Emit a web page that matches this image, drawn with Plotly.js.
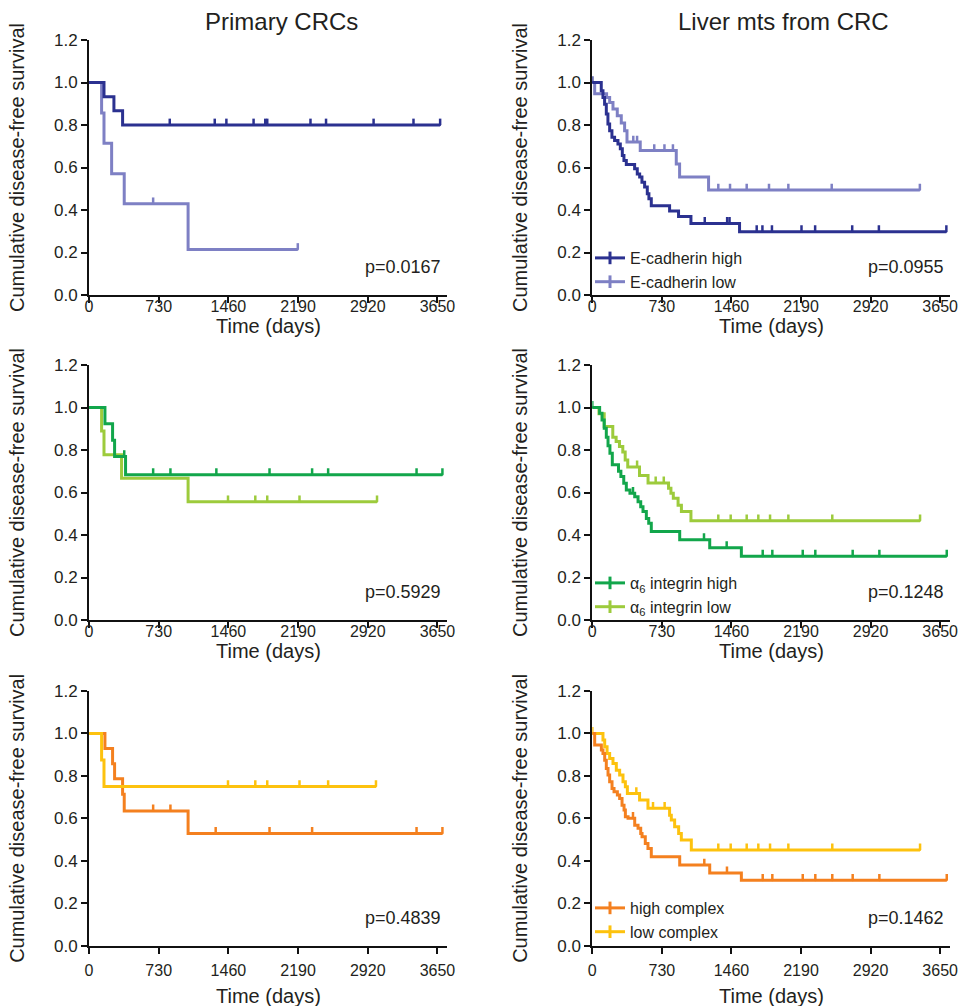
<!DOCTYPE html>
<html>
<head>
<meta charset="utf-8">
<script src="https://cdn.plot.ly/plotly-3.0.1.min.js"></script>
<style>html,body{margin:0;padding:0;background:#fff;}#chart{width:977px;height:1006px;}</style>
</head>
<body>
<div id="chart"></div>
<script>
// ---------- axis ticks ----------
const xTicks = [0, 730, 1460, 2190, 2920, 3650];
const yTicks = [0, 0.2, 0.4, 0.6, 0.8, 1.0, 1.2];

// ---------- Primary CRCs: E-cadherin ----------
const crcEcadHighT = [0, 157, 261, 352];
const crcEcadHighS = [1, 0.933, 0.867, 0.8];
const crcEcadHighC = [846, 1317, 1439, 1724, 1846, 1867, 2320, 2483, 2981, 3399, 3678];
const crcEcadLowT = [0, 132, 157, 237, 369, 1038];
const crcEcadLowS = [1, 0.857, 0.714, 0.571, 0.429, 0.214];
const crcEcadLowC = [672, 2187];

// ---------- Primary CRCs: alpha6 integrin ----------
const crcA6HighT = [0, 167, 247, 268, 383];
const crcA6HighS = [1, 0.923, 0.846, 0.769, 0.684];
const crcA6HighC = [369, 672, 853, 1334, 1891, 2337, 2505, 3431, 3702];
const crcA6LowT = [0, 132, 157, 341, 1038];
const crcA6LowS = [1, 0.889, 0.778, 0.667, 0.556];
const crcA6LowC = [1456, 1742, 1867, 2205, 3017];

// ---------- Primary CRCs: complex ----------
const crcCxHighT = [0, 167, 247, 268, 352, 369, 1038];
const crcCxHighS = [1, 0.929, 0.857, 0.786, 0.714, 0.635, 0.529];
const crcCxHighC = [672, 853, 1327, 1891, 2337, 3431, 3702];
const crcCxLowT = [0, 132, 157];
const crcCxLowS = [1, 0.875, 0.75];
const crcCxLowC = [1456, 1742, 1867, 2205, 2505, 3006];

// ---------- Liver mts: E-cadherin ----------
const livEcadHighT = [0, 94, 112, 129, 147, 164, 182, 206, 234, 269, 294, 315, 332, 357, 444, 472, 497, 521, 549, 577, 594, 619, 811, 905, 1035, 1545];
const livEcadHighS = [1, 0.961, 0.93, 0.898, 0.852, 0.805, 0.773, 0.742, 0.727, 0.711, 0.688, 0.656, 0.633, 0.614, 0.594, 0.57, 0.555, 0.531, 0.508, 0.477, 0.453, 0.42, 0.395, 0.37, 0.337, 0.298];
const livEcadHighC = [0, 1180, 1415, 1440, 1725, 1785, 1885, 2195, 2338, 2727, 3007, 3715];
const livEcadLowT = [0, 25, 150, 182, 217, 262, 304, 339, 364, 503, 881, 916, 1220];
const livEcadLowS = [1, 0.947, 0.93, 0.906, 0.875, 0.844, 0.81, 0.773, 0.72, 0.68, 0.617, 0.555, 0.494];
const livEcadLowC = [430, 470, 650, 757, 846, 1322, 1445, 1620, 1854, 2057, 2512, 3437];

// ---------- Liver mts: alpha6 integrin ----------
const livA6HighT = [0, 77, 102, 125, 147, 165, 185, 210, 275, 300, 330, 357, 395, 445, 480, 508, 532, 567, 592, 619, 917, 1232, 1564];
const livA6HighS = [1, 0.973, 0.941, 0.902, 0.86, 0.82, 0.785, 0.73, 0.70, 0.675, 0.643, 0.612, 0.596, 0.58, 0.557, 0.533, 0.51, 0.478, 0.455, 0.416, 0.378, 0.34, 0.30];
const livA6HighC = [0, 427, 1172, 1410, 1788, 1889, 2208, 2340, 2732, 3012, 3719];
const livA6LowT = [0, 70, 125, 215, 250, 285, 320, 345, 372, 495, 585, 800, 825, 850, 900, 935, 1035];
const livA6LowS = [1, 0.97, 0.91, 0.86, 0.84, 0.816, 0.79, 0.753, 0.72, 0.68, 0.645, 0.62, 0.597, 0.573, 0.54, 0.51, 0.467];
const livA6LowC = [470, 665, 750, 1322, 1452, 1620, 1742, 1865, 2057, 2518, 3439];

// ---------- Liver mts: complex ----------
const livCxHighT = [0, 25, 95, 112, 130, 147, 165, 182, 207, 228, 263, 287, 312, 333, 347, 375, 445, 480, 508, 522, 556, 584, 619, 917, 1232, 1564];
const livCxHighS = [1, 0.945, 0.922, 0.906, 0.874, 0.835, 0.804, 0.772, 0.741, 0.725, 0.71, 0.694, 0.662, 0.639, 0.608, 0.6, 0.568, 0.553, 0.529, 0.513, 0.482, 0.458, 0.419, 0.38, 0.343, 0.308];
const livCxHighC = [427, 1175, 1413, 1788, 1889, 2208, 2340, 2518, 2732, 3012, 3719];
const livCxLowT = [0, 112, 130, 155, 182, 217, 252, 287, 322, 347, 368, 496, 584, 811, 829, 864, 906, 934, 1039];
const livCxLowS = [1, 0.969, 0.937, 0.906, 0.882, 0.859, 0.827, 0.804, 0.772, 0.749, 0.717, 0.686, 0.647, 0.615, 0.592, 0.56, 0.529, 0.498, 0.451];
const livCxLowC = [0, 462, 637, 759, 1322, 1452, 1620, 1742, 1865, 2057, 2518, 3439];

// ---------- labels ----------
const colTitles = ['Primary CRCs', 'Liver mts from CRC'];
const pValues = ['p=0.0167', 'p=0.0955', 'p=0.5929', 'p=0.1248', 'p=0.4839', 'p=0.1462'];
const legendNames = [
  ['E-cadherin high', 'E-cadherin low'],
  ['\u03b1<sub>6</sub> integrin high', '\u03b1<sub>6</sub> integrin low'],
  ['high complex', 'low complex']
];
const xTitle = 'Time (days)';
const yTitle = 'Cumulative disease-free survival';

// ---------- colours ----------
const C = {
  ecadHigh: '#2b3190', ecadLow: '#7e80c4',
  a6High: '#12a64b', a6Low: '#9dcb3c',
  cxHigh: '#f4801f', cxLow: '#fdc20e'
};
const FONT = 'Liberation Sans, Arial, sans-serif';
const TXT = '#231f20';

function survAt(t, s, time) {
  let v = s[0];
  for (let i = 0; i < t.length; i++) if (t[i] <= time) v = s[i];
  return v;
}

const traces = [];
function addCurve(t, s, c, color, n) {
  const xa = n === 1 ? 'x' : 'x' + n, ya = n === 1 ? 'y' : 'y' + n;
  const end = Math.max(t[t.length - 1], ...c);
  traces.push({
    x: t.concat([end]), y: s.concat([s[s.length - 1]]),
    mode: 'lines', line: {shape: 'hv', color: color, width: 3},
    xaxis: xa, yaxis: ya, showlegend: false, hoverinfo: 'skip'
  });
  traces.push({
    x: c, y: c.map(v => survAt(t, s, v)),
    mode: 'markers', marker: {size: 2, color: color},
    error_y: {type: 'constant', value: 0.03, valueminus: 0, symmetric: false, width: 0, thickness: 2.5, color: color},
    xaxis: xa, yaxis: ya, showlegend: false, hoverinfo: 'skip', cliponaxis: false
  });
}
function addLegend(name, color, n, leg) {
  traces.push({
    x: [null], y: [null], name: name, mode: 'lines+markers',
    line: {color: color, width: 3},
    marker: {symbol: 'line-ns', size: 9, color: color, line: {width: 3, color: color}},
    xaxis: 'x' + n, yaxis: 'y' + n, legend: leg, showlegend: true
  });
}

// panel 1 (row1 left)
addCurve(crcEcadLowT, crcEcadLowS, crcEcadLowC, C.ecadLow, 1);
addCurve(crcEcadHighT, crcEcadHighS, crcEcadHighC, C.ecadHigh, 1);
// panel 2 (row1 right)
addCurve(livEcadLowT, livEcadLowS, livEcadLowC, C.ecadLow, 2);
addCurve(livEcadHighT, livEcadHighS, livEcadHighC, C.ecadHigh, 2);
addLegend(legendNames[0][0], C.ecadHigh, 2, 'legend');
addLegend(legendNames[0][1], C.ecadLow, 2, 'legend');
// panel 3
addCurve(crcA6LowT, crcA6LowS, crcA6LowC, C.a6Low, 3);
addCurve(crcA6HighT, crcA6HighS, crcA6HighC, C.a6High, 3);
// panel 4
addCurve(livA6LowT, livA6LowS, livA6LowC, C.a6Low, 4);
addCurve(livA6HighT, livA6HighS, livA6HighC, C.a6High, 4);
addLegend(legendNames[1][0], C.a6High, 4, 'legend2');
addLegend(legendNames[1][1], C.a6Low, 4, 'legend2');
// panel 5
addCurve(crcCxHighT, crcCxHighS, crcCxHighC, C.cxHigh, 5);
addCurve(crcCxLowT, crcCxLowS, crcCxLowC, C.cxLow, 5);
// panel 6
addCurve(livCxLowT, livCxLowS, livCxLowC, C.cxLow, 6);
addCurve(livCxHighT, livCxHighS, livCxHighC, C.cxHigh, 6);
addLegend(legendNames[2][0], C.cxHigh, 6, 'legend3');
addLegend(legendNames[2][1], C.cxLow, 6, 'legend3');

const W = 977, H = 1006;
const xDomL = [89 / W, 447 / W], xDomR = [592.3 / W, 949.7 / W];
const yDoms = [[1 - 295 / H, 1 - 40 / H], [1 - 620 / H, 1 - 365 / H], [1 - 945.7 / H, 1 - 691 / H]];
// per-row offsets (px) for x tick labels and x titles
const rowLabelStandoff = [-10, -10, 3];
const rowTitleShift = [-31, -31, -50];

function xAxis(dom, anchor, row) {
  return {
    domain: dom, anchor: anchor, range: [0, 3750], tickvals: xTicks, ticktext: xTicks.map(String),
    showline: true, linecolor: '#111', linewidth: 2, ticks: 'outside', ticklen: 6, tickwidth: 2, tickcolor: '#111',
    ticklabelstandoff: rowLabelStandoff[row],
    showgrid: false, zeroline: false, tickfont: {family: FONT, size: 16, color: TXT}, fixedrange: true
  };
}
function yAxis(dom, anchor) {
  return {
    domain: dom, anchor: anchor, range: [0, 1.2], tickvals: yTicks, tickformat: '.1f',
    showline: true, linecolor: '#111', linewidth: 2, ticks: 'outside', ticklen: 6, tickwidth: 2, tickcolor: '#111',
    showgrid: false, zeroline: false, tickfont: {family: FONT, size: 17, color: TXT},
    title: {text: yTitle, font: {family: FONT, size: 20, color: TXT}, standoff: 24}, fixedrange: true
  };
}

const legendBase = {xanchor: 'left', yanchor: 'top', bgcolor: 'rgba(0,0,0,0)', font: {family: FONT, size: 16, color: TXT}, itemwidth: 30, tracegroupgap: 0};

const annotations = [
  {text: colTitles[0], xref: 'paper', yref: 'paper', x: 281 / W, y: 1 - 22 / H, xanchor: 'center', yanchor: 'middle', showarrow: false, font: {family: FONT, size: 24, color: TXT}},
  {text: colTitles[1], xref: 'paper', yref: 'paper', x: 783 / W, y: 1 - 22 / H, xanchor: 'center', yanchor: 'middle', showarrow: false, font: {family: FONT, size: 24, color: TXT}}
];
pValues.forEach((p, i) => {
  const n = i + 1, xa = n === 1 ? 'x' : 'x' + n, ya = n === 1 ? 'y' : 'y' + n;
  const row = Math.floor(i / 2);
  annotations.push({text: p, xref: xa + ' domain', yref: ya + ' domain', x: 0.99, y: 0.11, xanchor: 'right', yanchor: 'middle', showarrow: false, font: {family: FONT, size: 18, color: TXT}});
  annotations.push({text: xTitle, xref: xa + ' domain', yref: ya + ' domain', x: 0.5, y: 0, yshift: rowTitleShift[row], xanchor: 'center', yanchor: 'middle', showarrow: false, font: {family: FONT, size: 20, color: TXT}});
});

const layout = {
  width: W, height: H, margin: {l: 0, r: 0, t: 0, b: 0},
  paper_bgcolor: '#fff', plot_bgcolor: '#fff',
  font: {family: FONT, color: TXT},
  xaxis: xAxis(xDomL, 'y', 0), yaxis: yAxis(yDoms[0], 'x'),
  xaxis2: xAxis(xDomR, 'y2', 0), yaxis2: yAxis(yDoms[0], 'x2'),
  xaxis3: xAxis(xDomL, 'y3', 1), yaxis3: yAxis(yDoms[1], 'x3'),
  xaxis4: xAxis(xDomR, 'y4', 1), yaxis4: yAxis(yDoms[1], 'x4'),
  xaxis5: xAxis(xDomL, 'y5', 2), yaxis5: yAxis(yDoms[2], 'x5'),
  xaxis6: xAxis(xDomR, 'y6', 2), yaxis6: yAxis(yDoms[2], 'x6'),
  legend: Object.assign({x: 590 / W, y: 1 - 241 / H}, legendBase),
  legend2: Object.assign({x: 590 / W, y: 1 - 566 / H}, legendBase),
  legend3: Object.assign({x: 590 / W, y: 1 - 891 / H}, legendBase),
  annotations: annotations
};

Plotly.newPlot('chart', traces, layout, {staticPlot: true, displayModeBar: false});
</script>
</body>
</html>
